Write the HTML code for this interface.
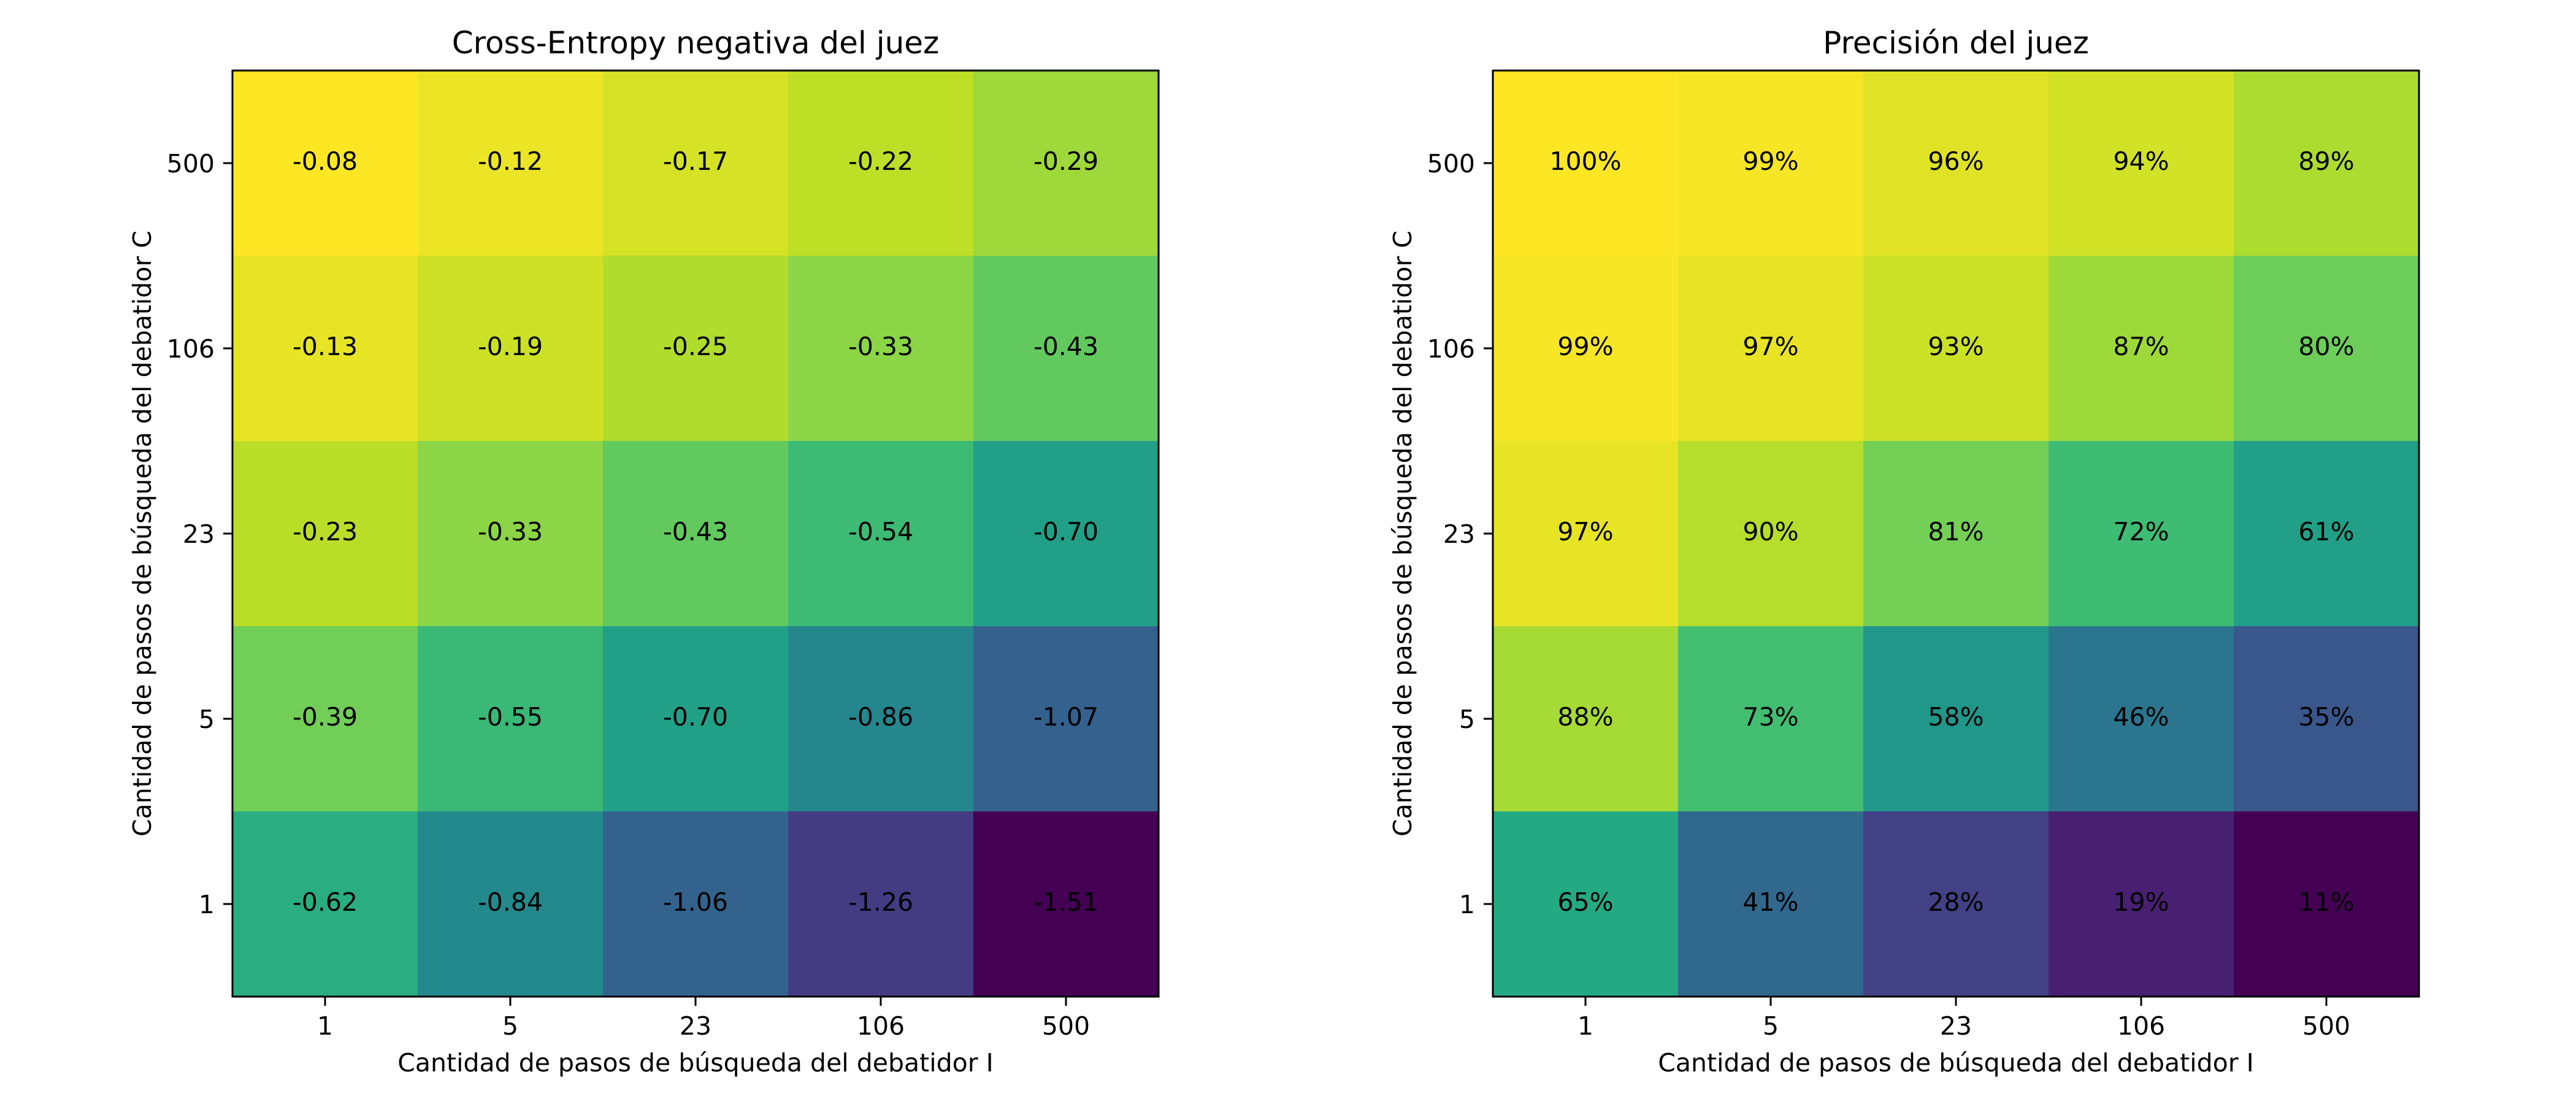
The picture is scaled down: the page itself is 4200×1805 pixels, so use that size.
<!DOCTYPE html>
<html><head><meta charset="utf-8"><style>
html,body{margin:0;padding:0;background:#fff}
svg text{font-family:"DejaVu Sans","Liberation Sans",sans-serif;fill:#000}
</style></head><body>
<svg id="fig" width="4200" height="1800" xmlns="http://www.w3.org/2000/svg"></svg>
<script>
const xCategories=["1","5","23","106","500"];
const yCategories=["500","106","23","5","1"];
const ceValues=[
[-0.08,-0.12,-0.17,-0.22,-0.29],
[-0.13,-0.19,-0.25,-0.33,-0.43],
[-0.23,-0.33,-0.43,-0.54,-0.70],
[-0.39,-0.55,-0.70,-0.86,-1.07],
[-0.62,-0.84,-1.06,-1.26,-1.51]];
const accValues=[
[100,99,96,94,89],
[99,97,93,87,80],
[97,90,81,72,61],
[88,73,58,46,35],
[65,41,28,19,11]];
const stops=["#440154","#482475","#414487","#355f8d","#2a788e","#21918c","#22a884","#44bf70","#7ad151","#bddf26","#fde725"];
function hex(h){return [1,3,5].map(i=>parseInt(h.substr(i,2),16));}
function viridis(t){t=Math.max(0,Math.min(1,t));const p=t*10,i=Math.min(9,Math.floor(p)),f=p-i;const a=hex(stops[i]),b=hex(stops[i+1]);return "rgb("+a.map((v,k)=>Math.round(v+(b[k]-v)*f)).join(",")+")";}
const NS="http://www.w3.org/2000/svg",svg=document.getElementById("fig");
function el(tag,attrs,parent,txt){const e=document.createElementNS(NS,tag);for(const k in attrs)e.setAttribute(k,attrs[k]);if(txt!==undefined)e.textContent=txt;(parent||svg).appendChild(e);return e;}
function panel(x0,title,vals,fmt,name){
  const y0=115,S=1510,n=5,c=S/n;
  const g=el("g",{});
  
  
  let mn=Infinity,mx=-Infinity;vals.forEach(r=>r.forEach(v=>{mn=Math.min(mn,v);mx=Math.max(mx,v);}));
  const xs=j=>x0+j*c, ys=i=>y0+i*c;
  vals.forEach((r,i)=>r.forEach((v,j)=>{
    const rc=el("rect",{x:xs(j),y:ys(i),width:c+0.5,height:c+0.5,fill:viridis((v-mn)/(mx-mn))},g);
    
    
    const t=el("text",{x:xs(j)+c/2,y:ys(i)+c/2+11,"text-anchor":"middle","font-size":"41"},g,fmt(v));
    
    
  }));
  const fr=el("rect",{x:x0,y:y0,width:S,height:S,fill:"none",stroke:"#000","stroke-width":"3"},g);
  
  
  xCategories.forEach((lab,j)=>{
    const cx=xs(j)+c/2;
    el("line",{x1:cx,y1:y0+S,x2:cx,y2:y0+S+15,stroke:"#000","stroke-width":"3"},g);
    const t=el("text",{x:cx,y:y0+S+62,"text-anchor":"middle","font-size":"41"},g,lab);
    
    
  });
  yCategories.forEach((lab,i)=>{
    const cy=ys(i)+c/2;
    el("line",{x1:x0-15,y1:cy,x2:x0,y2:cy,stroke:"#000","stroke-width":"3"},g);
    const t=el("text",{x:x0-29,y:cy+15,"text-anchor":"end","font-size":"41"},g,lab);
    
    
  });
  const tt=el("text",{x:x0+S/2,y:87,"text-anchor":"middle","font-size":"50"},g,title);
  
  
  const xl=el("text",{x:x0+S/2,y:1747,"text-anchor":"middle","font-size":"41"},g,"Cantidad de pasos de búsqueda del debatidor I");
  
  
  const yx=x0-133,yy=y0+S/2;
  const yl=el("text",{x:yx,y:yy,"text-anchor":"middle","font-size":"41",transform:"rotate(-90 "+yx+" "+yy+")"},g,"Cantidad de pasos de búsqueda del debatidor C");
  
  
}
panel(379,"Cross-Entropy negativa del juez",ceValues,v=>v.toFixed(2),"cross-entropy-heatmap");
panel(2434,"Precisión del juez",accValues,v=>v+"%","accuracy-heatmap");
</script>
</body></html>
